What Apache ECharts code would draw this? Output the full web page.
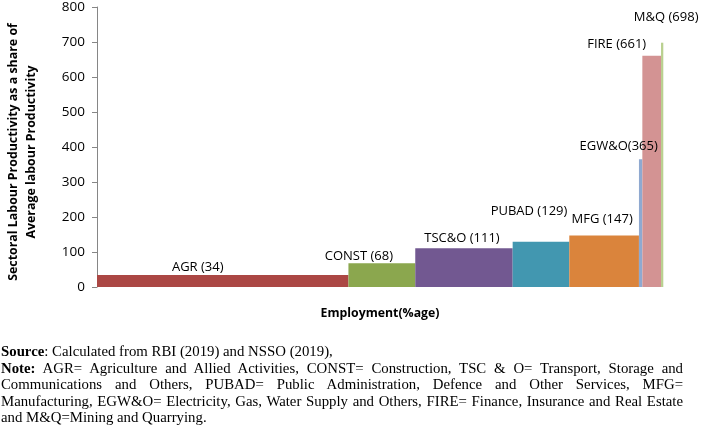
<!DOCTYPE html>
<html>
<head>
<meta charset="utf-8">
<script src="https://cdn.jsdelivr.net/npm/echarts@6/dist/echarts.min.js"></script>
<style>
  html, body { margin: 0; padding: 0; background: #fff; }
  #wrap { position: relative; width: 709px; height: 428px; overflow: hidden; }
  #chart { position: absolute; left: 0; top: 0; width: 709px; height: 428px; }
  #note { position: absolute; left: 1px; top: 343px; width: 682px;
          font-family: "Liberation Serif", "Times New Roman", serif; font-size: 14.8px;
          line-height: 16.6px; color: #000; }
  #note .j { text-align: justify; text-align-last: justify; }
</style>
</head>
<body>
<div id="wrap">
  <div id="chart"></div>
  <div id="note">
    <div><b>Source</b>: Calculated from RBI (2019) and NSSO (2019),</div>
    <div class="j"><b>Note:</b> AGR= Agriculture and Allied Activities, CONST= Construction, TSC &amp; O= Transport, Storage and</div>
    <div class="j">Communications and Others, PUBAD= Public Administration, Defence and Other Services, MFG=</div>
    <div class="j">Manufacturing, EGW&amp;O= Electricity, Gas, Water Supply and Others, FIRE= Finance, Insurance and Real Estate</div>
    <div>and M&amp;Q=Mining and Quarrying.</div>
  </div>
</div>
<script>
// ---- data ----
const sectors = ['AGR', 'CONST', 'TSC&O', 'PUBAD', 'MFG', 'EGW&O', 'FIRE', 'M&Q'];
const labels = ['AGR (34)', 'CONST (68)', 'TSC&O (111)', 'PUBAD (129)', 'MFG (147)', 'EGW&O(365)', 'FIRE (661)', 'M&Q (698)'];
const employmentShare = [44.4, 11.8, 17.2, 10.0, 12.3, 0.6, 3.3, 0.4];
const productivity = [34, 68, 111, 129, 147, 365, 661, 698];
const yTicks = [0, 100, 200, 300, 400, 500, 600, 700, 800];

// ---- styles ----
const colors = ['#AB4744', '#8BA74E', '#725891', '#4297B0', '#DA843C', '#8FA9D0', '#D39393', '#B9D08F'];
const labelDx = [-25, -23, -2, -12, -2, -22, -35, 4];
const labelDy = [-8, -7, -10, -31, -16, -13, -11, -25];

const chart = echarts.init(document.getElementById('chart'), null, { renderer: 'canvas' });

let acc = 0;
const data = sectors.map((s, i) => {
  const start = acc;
  acc += employmentShare[i];
  return [start, acc, productivity[i], i];
});

const font = '"Open Sans", sans-serif';

chart.setOption({
  animation: false,
  grid: { left: 97, right: 45.7, top: 3, bottom: 141, containLabel: false },
  xAxis: {
    type: 'value', min: 0, max: 100,
    axisLine: { show: false }, axisTick: { show: false },
    axisLabel: { show: false }, splitLine: { show: false }
  },
  yAxis: {
    type: 'value', min: yTicks[0], max: yTicks[yTicks.length - 1], interval: 100,
    axisLine: { show: true, lineStyle: { color: '#868686', width: 1 } },
    axisTick: { show: true, length: 5, lineStyle: { color: '#868686' } },
    axisLabel: { color: '#000', fontFamily: font, fontSize: 13.5, margin: 12, padding: [3, 0, 0, 0] },
    splitLine: { show: false }
  },
  graphic: [
    {
      type: 'text', x: 22, y: 152, rotation: Math.PI / 2,
      style: {
        text: 'Sectoral Labour Productivity as a share of\nAverage labour Productivity',
        fontFamily: font, fontWeight: 'bold', fontSize: 12.4, lineHeight: 18,
        align: 'center', verticalAlign: 'middle', fill: '#000'
      }
    },
    {
      type: 'text', x: 380, y: 313,
      style: {
        text: 'Employment(%age)', fontFamily: font, fontWeight: 'bold', fontSize: 12.3,
        align: 'center', verticalAlign: 'middle', fill: '#000'
      }
    }
  ],
  series: [{
    type: 'custom',
    encode: { x: [0, 1], y: 2 },
    data: data,
    renderItem: function (params, api) {
      const i = api.value(3);
      const p0 = api.coord([api.value(0), api.value(2)]);
      const p1 = api.coord([api.value(1), 0]);
      const cx = (p0[0] + p1[0]) / 2;
      return {
        type: 'group',
        children: [
          {
            type: 'rect', z2: 1,
            shape: { x: p0[0], y: p0[1], width: p1[0] - p0[0], height: p1[1] - p0[1] },
            style: { fill: colors[i] }
          },
          {
            type: 'text', z2: 100,
            x: cx + labelDx[i], y: p0[1] + labelDy[i],
            style: {
              text: labels[i], fontFamily: font, fontSize: 13, fill: '#000',
              align: 'center', verticalAlign: 'middle'
            }
          }
        ]
      };
    }
  }]
});
</script>
</body>
</html>
